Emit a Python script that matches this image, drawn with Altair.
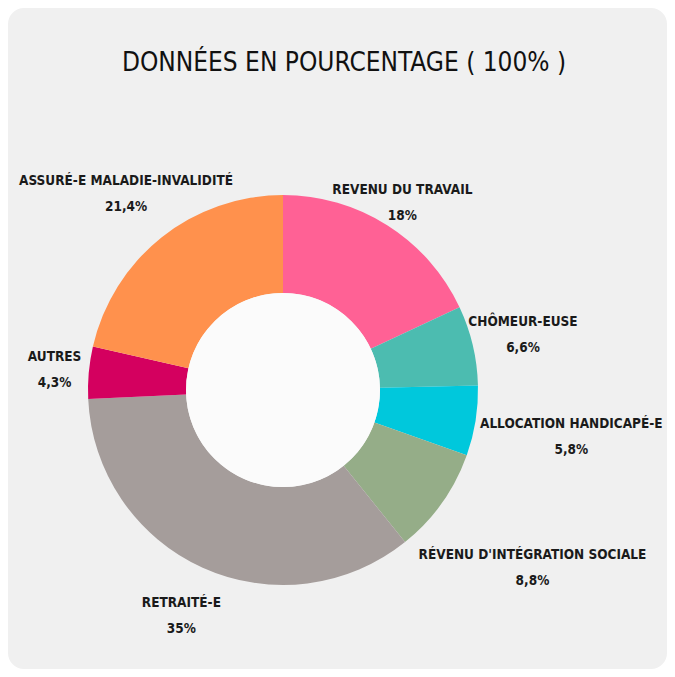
import altair as alt
import pandas as pd

title_text = "DONNÉES EN POURCENTAGE ( 100% )"
categories = [
    "REVENU DU TRAVAIL",
    "CHÔMEUR-EUSE",
    "ALLOCATION HANDICAPÉ-E",
    "RÉVENU D'INTÉGRATION SOCIALE",
    "RETRAITÉ-E",
    "AUTRES",
    "ASSURÉ-E MALADIE-INVALIDITÉ",
]
values = [18, 6.6, 5.8, 8.8, 35, 4.3, 21.4]
colors = ["#ff6195", "#4cbcb0", "#00c8dc", "#95ad88", "#a59d9b", "#d4005f", "#ff914d"]


def fr(v):
    s = ("%g" % v).replace(".", ",")
    return s + "%"


df = pd.DataFrame({
    "name": categories,
    "value": values,
    "idx": list(range(len(categories))),
    "pct": [fr(v) for v in values],
})

FONT = "DejaVu Sans Condensed, DejaVu Sans, sans-serif"
CX, CY = 275, 382
R_OUT, R_IN = 195, 97

base = alt.Chart(df)

color = alt.Color("name:N", scale=alt.Scale(domain=categories, range=colors), legend=None)
order = alt.Order("idx:Q")

arcs = base.mark_arc(radius=R_OUT, innerRadius=R_IN, stroke=None).encode(
    theta=alt.Theta("value:Q", stack=True),
    color=color,
    order=order,
    x=alt.value(CX),
    y=alt.value(CY),
)

hole = alt.Chart(pd.DataFrame({"a": [1]})).mark_circle(
    size=4 * R_IN * R_IN, color="#fbfbfb", opacity=1, strokeWidth=0
).encode(x=alt.value(CX), y=alt.value(CY))

lab = base.transform_window(
    cum="sum(value)", sort=[alt.SortField("idx")], frame=[None, 0]
).transform_joinaggregate(
    total="sum(value)"
).transform_calculate(
    mid="(datum.cum - datum.value / 2) / datum.total * 2 * PI"
).transform_calculate(
    lr="210 + 3.6 * length(datum.name) * abs(sin(datum.mid)) - 24 * cos(datum.mid)"
).transform_calculate(
    lx=f"{CX} + datum.lr * sin(datum.mid)",
    ly=f"{CY} - datum.lr * cos(datum.mid)",
)

enc = dict(
    x=alt.X("lx:Q", scale=None),
    y=alt.Y("ly:Q", scale=None),
)

names = lab.mark_text(font=FONT, fontSize=13.5, fontWeight="bold", color="#1a1a1a",
                      align="center", baseline="middle", dy=-12).encode(text="name:N", **enc)
pcts = lab.mark_text(font=FONT, fontSize=13.5, fontWeight="bold", color="#1a1a1a",
                     align="center", baseline="middle", dy=14).encode(text="pct:N", **enc)

title = alt.Chart(pd.DataFrame({"t": [title_text]})).mark_text(
    font=FONT, fontSize=26, fontWeight="normal", color="#111111",
    align="center", baseline="middle"
).encode(text="t:N", x=alt.value(336), y=alt.value(55))

chart = alt.layer(arcs, hole, names, pcts, title).properties(
    width=659, height=661, padding=0, autosize=alt.AutoSizeParams(type="none"),
    background="#ffffff",
).configure_view(fill="#f0f0f0", stroke=None, cornerRadius=16)

chart.save("out.html", embed_options={"renderer": "svg", "actions": False})
